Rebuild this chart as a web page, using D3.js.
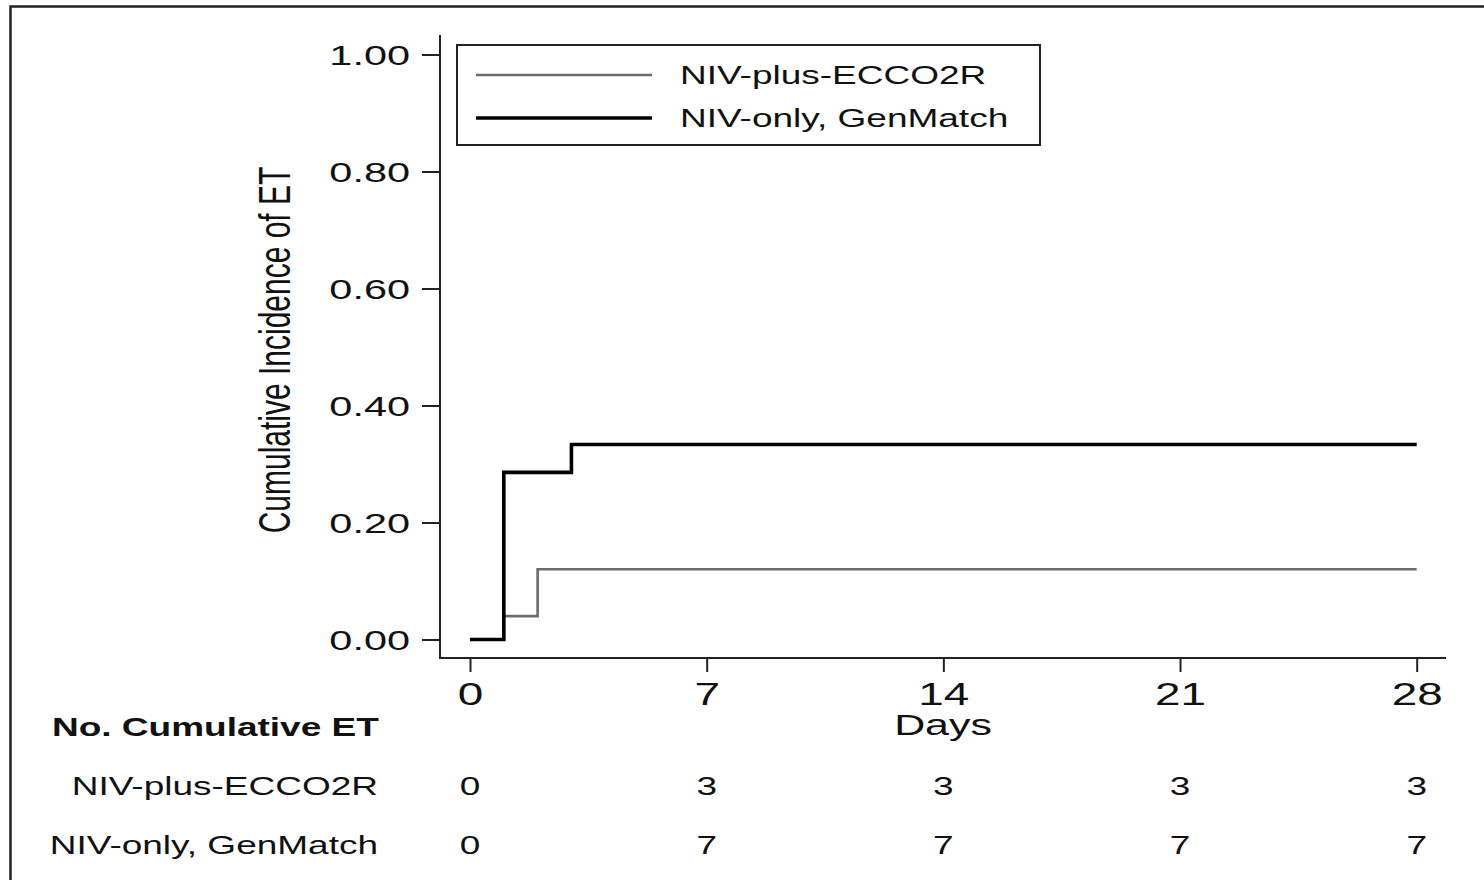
<!DOCTYPE html>
<html>
<head>
<meta charset="utf-8">
<script src="https://cdn.jsdelivr.net/npm/d3@7"></script>
<style>
  html, body { margin: 0; padding: 0; background: #fff; }
  svg { display: block; }
  text { font-family: "Liberation Sans", Arial, sans-serif; fill: #111; }
</style>
</head>
<body>
<svg id="chart" width="1484" height="880"></svg>
<script>
// Cumulative incidence of endotracheal intubation (ET), step functions by group
const groupNames = ["NIV-plus-ECCO2R", "NIV-only, GenMatch"];
const eccoDays = [0, 1, 2, 28];
const eccoIncidence = [0, 0.04, 0.12, 0.12];
const genMatchDays = [0, 1, 3, 28];
const genMatchIncidence = [0, 0.2857, 0.3333, 0.3333];

// Axis ticks and the number-at-risk style table under the x axis
const dayTicks = [0, 7, 14, 21, 28];
const incidenceTicks = [0, 0.2, 0.4, 0.6, 0.8, 1.0];
const eccoCumulativeET = [0, 3, 3, 3, 3];
const genMatchCumulativeET = [0, 7, 7, 7, 7];

const SX = 1.48; // horizontal stretch applied to all lettering
const svg = d3.select("#chart");

const x = d3.scaleLinear().domain([0, 28]).range([470, 1416.7]);
const y = d3.scaleLinear().domain([0, 1]).range([639.5, 54.5]);

// stretch a text element horizontally about its anchor point
function stretch(sel, extraRotate) {
  sel.each(function () {
    const t = d3.select(this);
    const tx = +t.attr("x") || 0;
    const ty = +t.attr("y") || 0;
    t.attr("x", null).attr("y", null)
     .attr("transform", `translate(${tx},${ty}) scale(${SX},1)` + (extraRotate ? ` rotate(${extraRotate})` : ""));
  });
}

// outer frame
svg.append("path")
  .attr("d", "M10.5,880 V6.5 H1484")
  .attr("fill", "none").attr("stroke", "#222").attr("stroke-width", 2.5);

// axis spines
const axisColor = "#222";
svg.append("line").attr("x1", 440).attr("x2", 440).attr("y1", 35).attr("y2", 659)
  .attr("stroke", axisColor).attr("stroke-width", 2);
svg.append("line").attr("x1", 439).attr("x2", 1446).attr("y1", 658).attr("y2", 658)
  .attr("stroke", axisColor).attr("stroke-width", 2);

// y axis
const yAxis = svg.append("g").attr("transform", "translate(440,0)")
  .call(d3.axisLeft(y).tickValues(incidenceTicks).tickFormat(d3.format(".2f"))
    .tickSize(18).tickSizeOuter(0).tickPadding(12));
yAxis.select(".domain").remove();
yAxis.selectAll(".tick line").attr("stroke", axisColor).attr("stroke-width", 2);
yAxis.selectAll(".tick text")
  .attr("font-size", 28).attr("font-family", "Liberation Sans, Arial, sans-serif")
  .attr("fill", "#111").attr("dy", "0.36em")
  .each(function () { d3.select(this).attr("y", 0); });
stretch(yAxis.selectAll(".tick text"));

// x axis
const xAxis = svg.append("g").attr("transform", "translate(0,658)")
  .call(d3.axisBottom(x).tickValues(dayTicks).tickFormat(d3.format("d"))
    .tickSize(14).tickSizeOuter(0).tickPadding(8));
xAxis.select(".domain").remove();
xAxis.selectAll(".tick line").attr("stroke", axisColor).attr("stroke-width", 2);
xAxis.selectAll(".tick text")
  .attr("font-size", 31).attr("font-family", "Liberation Sans, Arial, sans-serif")
  .attr("fill", "#111").attr("dy", null).attr("y", 47);
stretch(xAxis.selectAll(".tick text"));

// axis titles
svg.append("text").attr("x", 943).attr("y", 735)
  .attr("text-anchor", "middle").attr("font-size", 29).text("Days")
  .call(stretch);
svg.append("text").attr("x", 290).attr("y", 350)
  .attr("text-anchor", "middle").attr("font-size", 30).text("Cumulative Incidence of ET")
  .call(s => stretch(s, -90));

// step curves
const step = d3.line().curve(d3.curveStepAfter).x(d => x(d[0])).y(d => y(d[1]));
const series = [
  { name: groupNames[0], pts: d3.zip(eccoDays, eccoIncidence), color: "#6b6b6b", width: 2.6 },
  { name: groupNames[1], pts: d3.zip(genMatchDays, genMatchIncidence), color: "#000", width: 3.6 }
];
svg.append("g").selectAll("path").data(series).join("path")
  .attr("d", d => step(d.pts))
  .attr("fill", "none")
  .attr("stroke", d => d.color)
  .attr("stroke-width", d => d.width);

// legend
const legend = svg.append("g");
legend.append("rect").attr("x", 457).attr("y", 45).attr("width", 583).attr("height", 100)
  .attr("fill", "#fff").attr("stroke", "#222").attr("stroke-width", 2);
const legendRows = [75, 118];
series.forEach((s, i) => {
  legend.append("line").attr("x1", 476).attr("x2", 652)
    .attr("y1", legendRows[i]).attr("y2", legendRows[i])
    .attr("stroke", s.color).attr("stroke-width", s.width);
  legend.append("text").attr("x", 680).attr("y", legendRows[i] + 9)
    .attr("font-size", 25).text(s.name).call(stretch);
});

// cumulative ET table
svg.append("text").attr("x", 52).attr("y", 736)
  .attr("font-size", 25).attr("font-weight", "bold").text("No. Cumulative ET")
  .call(stretch);
const tableRows = [
  { label: groupNames[0], counts: eccoCumulativeET, y: 795 },
  { label: groupNames[1], counts: genMatchCumulativeET, y: 854 }
];
tableRows.forEach(r => {
  svg.append("text").attr("x", 378).attr("y", r.y).attr("text-anchor", "end")
    .attr("font-size", 25).text(r.label).call(stretch);
  svg.append("g").selectAll("text").data(d3.zip(dayTicks, r.counts)).join("text")
    .attr("x", d => x(d[0])).attr("y", r.y)
    .attr("text-anchor", "middle").attr("font-size", 25)
    .text(d => d[1])
    .call(stretch);
});
</script>
</body>
</html>
